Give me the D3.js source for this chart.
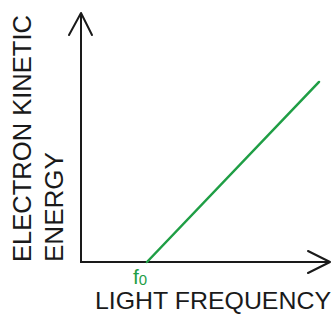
<!DOCTYPE html>
<html>
<head>
<meta charset="utf-8">
<script src="https://cdn.jsdelivr.net/npm/d3@7"></script>
<style>
html,body{margin:0;padding:0;background:#fff;}
svg{display:block;}
text{font-family:"Liberation Sans",Arial,sans-serif;}
</style>
</head>
<body>
<svg id="chart" width="335" height="314"></svg>
<script>
// Data
const frequencies = [2.65, 9.56];
const kineticEnergies = [0, 7.23];
const tickValues = [2.65];
const tickLabels = ["f"];
const tickSubs = ["0"];
const xTitle = "LIGHT FREQUENCY";
const yTitleLines = ["ELECTRON KINETIC", "ENERGY"];

const svg = d3.select("#chart");
const x = d3.scaleLinear().domain([0, 10]).range([81, 330]);
const y = d3.scaleLinear().domain([0, 10]).range([262, 13]);
const green = "#1f9e45";
const ink = "#1a1a1a";

// axes
const axisPath = d3.path();
axisPath.moveTo(x(0), y(10));
axisPath.lineTo(x(0), y(0));
axisPath.lineTo(x(10), y(0));
svg.append("path").attr("d", axisPath.toString())
  .attr("fill", "none").attr("stroke", ink).attr("stroke-width", 2);

// arrowheads
svg.append("path")
  .attr("d", d3.line()([[x(0) - 12, y(10) + 22], [x(0), y(10)], [x(0) + 11, y(10) + 22]]))
  .attr("fill", "none").attr("stroke", ink).attr("stroke-width", 2)
  .attr("stroke-linejoin", "round").attr("stroke-linecap", "round");
svg.append("path")
  .attr("d", d3.line()([[x(10) - 22, y(0) - 11], [x(10), y(0)], [x(10) - 22, y(0) + 11]]))
  .attr("fill", "none").attr("stroke", ink).attr("stroke-width", 2)
  .attr("stroke-linejoin", "round").attr("stroke-linecap", "round");

// data line
const pts = frequencies.map((f, i) => [x(f), y(kineticEnergies[i])]);
svg.append("path").attr("d", d3.line()(pts))
  .attr("fill", "none").attr("stroke", green).attr("stroke-width", 2.5)
  .attr("stroke-linecap", "round");

// tick label f0
tickValues.forEach((v, i) => {
  const t = svg.append("text")
    .attr("x", x(v) - 14).attr("y", 284)
    .attr("fill", green).attr("font-size", 21);
  t.append("tspan").text(tickLabels[i]);
  t.append("tspan").attr("font-size", 15).attr("dy", 1).text(tickSubs[i]);
});

// x title
svg.append("text").attr("x", 95).attr("y", 309)
  .attr("font-size", 24).attr("fill", ink)
  .attr("textLength", 236).attr("lengthAdjust", "spacingAndGlyphs")
  .text(xTitle);

// y title
const yLens = [247, 110];
const yBase = [31, 63];
yTitleLines.forEach((line, i) => {
  svg.append("text")
    .attr("transform", `translate(${yBase[i]},262) rotate(-90)`)
    .attr("font-size", 25).attr("fill", ink)
    .attr("textLength", yLens[i]).attr("lengthAdjust", "spacingAndGlyphs")
    .text(line);
});
</script>
</body>
</html>
